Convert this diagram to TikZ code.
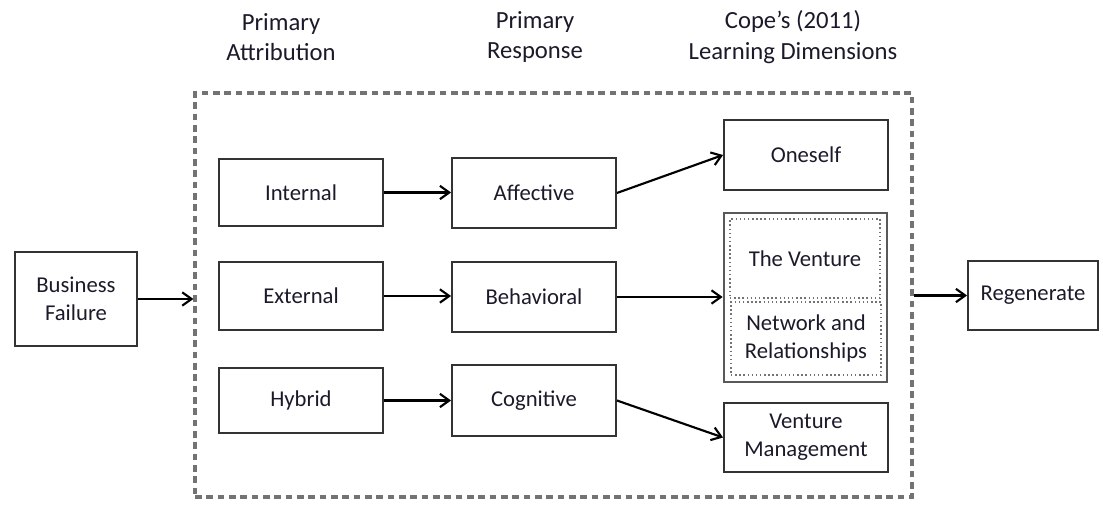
\documentclass[tikz,border=0pt]{standalone}
\usepackage{fontspec}
\setmainfont{Carlito}
\usetikzlibrary{arrows.meta,fit,calc}
\definecolor{txt}{HTML}{1A1A2A}
\tikzset{
  boxfit/.style={draw=black!80, line width=1.4pt, inner sep=0pt},
  bigbox/.style={draw=black!65, line width=2pt, inner sep=0pt},
  dotbox/.style={draw=black!55, dotted, line width=1.1pt, inner sep=0pt},
  frame/.style={draw=black!55, line width=2.4pt, dash pattern=on 5pt off 3.5pt, inner sep=0pt},
  lbl/.style={align=center, text=txt, font=\fontsize{17}{21}\selectfont},
  header/.style={align=center, text=txt, font=\fontsize{18.5}{23}\selectfont},
  arr/.style={line width=1.6pt, -{Straight Barb[length=7pt,width=10pt,line width=1.6pt]}},
}
\begin{document}
\begin{tikzpicture}[x=0.75pt,y=-0.75pt]
\useasboundingbox (0,0) rectangle (1103,505);
% headers
\node[header] (h1) at (281,37) {Primary\\Attribution};
\node[header] (h2) at (535,37) {Primary\\Response};
\node[header] (h3) at (793,37) {Cope’s (2011)\\Learning Dimensions};
% dashed frame
\node[frame, fit={(195,93)(912,497)}] (fr) {};
% boxes
\node[boxfit, fit={(15,252)(137,346)}] (bf) {};
\node[lbl] (bft) at (bf.center) {Business\\Failure};
\node[boxfit, fit={(219,159)(383,226)}] (int) {};
\node[lbl] (intt) at (int.center) {Internal};
\node[boxfit, fit={(219,262)(383,330)}] (ext) {};
\node[lbl] (extt) at (ext.center) {External};
\node[boxfit, fit={(219,368)(383,433)}] (hyb) {};
\node[lbl] (hybt) at (hyb.center) {Hybrid};
\node[boxfit, fit={(452,158)(616,228)}] (aff) {};
\node[lbl] (afft) at (aff.center) {Affective};
\node[boxfit, fit={(452,262)(616,332)}] (beh) {};
\node[lbl] (beht) at (beh.center) {Behavioral};
\node[boxfit, fit={(452,365)(616,436)}] (cog) {};
\node[lbl] (cogt) at (cog.center) {Cognitive};
\node[boxfit, fit={(724,120)(888,190)}] (one) {};
\node[lbl] (onet) at (one.center) {Oneself};
\node[bigbox, fit={(724,213)(887,382)}] (big) {};
\node[dotbox, fit={(730,219)(880,298)}] (tv) {};
\node[lbl] (tvt) at (tv.center) {The Venture};
\node[dotbox, fit={(731,302)(881,375)}] (nr) {};
\node[lbl] (nrt) at (nr.center) {Network and\\Relationships};
\node[boxfit, fit={(724,403)(888,472)}] (vm) {};
\node[lbl] (vmt) at (vm.center) {Venture\\Management};
\node[boxfit, fit={(968,261)(1098,330)}] (reg) {};
\node[lbl] (regt) at (reg.center) {Regenerate};
% connectors
\draw[arr] (bf.east) -- (bf.east -| fr.west);
\draw[arr] (int.east) -- (int.east -| aff.west);
\draw[arr] (ext.east) -- (ext.east -| beh.west);
\draw[arr] (hyb.east) -- (hyb.east -| cog.west);
\draw[arr] (aff.east) -- (one.west);
\draw[arr] (beh.east) -- (beh.east -| big.west);
\draw[arr] (cog.east) -- (vm.west);
\draw[arr] (fr.east |- reg.west) -- (reg.west);
\end{tikzpicture}
\end{document}
